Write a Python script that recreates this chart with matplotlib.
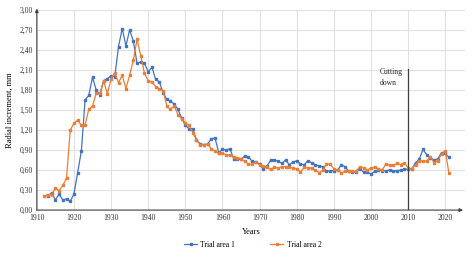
import matplotlib
matplotlib.use("Agg")
import matplotlib.pyplot as plt
import numpy as np

# ─────────────────────────────────────────────
# Dados
# ─────────────────────────────────────────────
years_area1 = list(range(1913, 2022))
area1 = [
    0.21, 0.26, 0.15, 0.24, 0.15, 0.17, 0.13,                    # 1913-1919
    0.24, 0.56, 0.89, 1.65, 1.72, 1.99, 1.80, 1.72, 1.94, 1.97,  # 1920-1929
    2.01, 2.00, 2.45, 2.72, 2.46, 2.70, 2.53, 2.20, 2.22, 2.20,  # 1930-1939
    2.07, 2.14, 1.96, 1.92, 1.76, 1.66, 1.63, 1.59, 1.51, 1.38,  # 1940-1949
    1.27, 1.22, 1.22, 1.05, 0.99, 0.98, 0.99, 1.07, 1.08, 0.86,  # 1950-1959
    0.91, 0.90, 0.92, 0.77, 0.76, 0.76, 0.81, 0.80, 0.73, 0.72,  # 1960-1969
    0.69, 0.61, 0.66, 0.75, 0.75, 0.73, 0.70, 0.75, 0.68, 0.72,  # 1970-1979
    0.74, 0.69, 0.68, 0.74, 0.71, 0.68, 0.66, 0.65, 0.58, 0.59,  # 1980-1989
    0.59, 0.60, 0.68, 0.65, 0.58, 0.57, 0.57, 0.62, 0.57, 0.57,  # 1990-1999
    0.54, 0.58, 0.60, 0.59, 0.59, 0.60, 0.59, 0.59, 0.60, 0.61,  # 2000-2009
    0.61, 0.62, 0.71, 0.76, 0.91, 0.83, 0.78, 0.75, 0.77, 0.86,  # 2010-2019
    0.85, 0.79,                                                  # 2020-2021
]

years_area2 = list(range(1912, 2022))
area2 = [
    0.21, 0.23, 0.23, 0.33, 0.29, 0.37, 0.48, 1.20,              # 1912-1919
    1.30, 1.35, 1.27, 1.28, 1.51, 1.56, 1.75, 1.75, 1.94, 1.74,  # 1920-1929
    1.97, 2.06, 1.91, 2.02, 1.82, 2.02, 2.25, 2.56, 2.31, 2.05,  # 1930-1939
    1.94, 1.92, 1.85, 1.82, 1.79, 1.56, 1.51, 1.56, 1.43, 1.37,  # 1940-1949
    1.31, 1.27, 1.16, 1.05, 0.98, 0.98, 0.99, 0.92, 0.88, 0.85,  # 1950-1959
    0.85, 0.83, 0.82, 0.80, 0.78, 0.77, 0.73, 0.69, 0.69, 0.72,  # 1960-1969
    0.68, 0.66, 0.64, 0.61, 0.64, 0.63, 0.65, 0.65, 0.64, 0.63,  # 1970-1979
    0.62, 0.57, 0.64, 0.63, 0.63, 0.60, 0.56, 0.60, 0.69, 0.69,  # 1980-1989
    0.62, 0.60, 0.56, 0.58, 0.58, 0.58, 0.58, 0.65, 0.63, 0.60,  # 1990-1999
    0.63, 0.64, 0.62, 0.60, 0.69, 0.67, 0.67, 0.70, 0.68, 0.71,  # 2000-2009
    0.63, 0.62, 0.68, 0.74, 0.73, 0.74, 0.80, 0.71, 0.74, 0.84,  # 2010-2019
    0.89, 0.55,                                                  # 2020-2021
]

series_labels = ["Trial area 1", "Trial area 2"]
x_ticks = list(range(1910, 2030, 10))
y_ticks = [0.0, 0.3, 0.6, 0.9, 1.2, 1.5, 1.8, 2.1, 2.4, 2.7, 3.0]
cut_year = 2010
cut_label = "Cutting\ndown"

# ─────────────────────────────────────────────
# Figura
# ─────────────────────────────────────────────
plt.rcParams["font.family"] = ["Liberation Serif", "DejaVu Serif"]

fig = plt.figure(figsize=(4.72, 2.60), dpi=100)
ax = fig.add_axes([0.078, 0.192, 0.907, 0.770])

x_min, x_max = 1910, 2025.3
ax.set_xlim(x_min, x_max)
ax.set_ylim(0, 3.0)

ax.plot(years_area1, area1, color="#4472C4", lw=0.9, marker="s", ms=1.6,
        label=series_labels[0], zorder=3)
ax.plot(years_area2, area2, color="#ED7D31", lw=0.9, marker="s", ms=1.6,
        label=series_labels[1], zorder=3)

# grade
ax.set_xticks(x_ticks)
ax.set_yticks(y_ticks)
ax.set_yticklabels([f"{v:.2f}".replace(".", ",") for v in y_ticks])
ax.grid(True, color="#e0e0e0", lw=0.8, zorder=0)
ax.tick_params(length=0, labelsize=5.5, pad=3, colors="#333333")

for s in ax.spines.values():
    s.set_visible(False)

# eixos com seta
ax.annotate("", xy=(x_min, 3.02), xytext=(x_min, 0), annotation_clip=False,
            arrowprops=dict(arrowstyle="-|>", color="#404040", lw=0.8,
                            mutation_scale=5, shrinkA=0, shrinkB=0))
ax.annotate("", xy=(x_max - 0.5, 0), xytext=(x_min, 0), annotation_clip=False,
            arrowprops=dict(arrowstyle="-|>", color="#404040", lw=0.8,
                            mutation_scale=5, shrinkA=0, shrinkB=0))

# linha do corte
ax.plot([cut_year, cut_year], [0, 2.11], color="#404040", lw=0.9, zorder=4)
ax.text(cut_year - 7.7, 2.13, cut_label, fontsize=5.5, va="top", ha="left",
        color="#222222", linespacing=1.5)

ax.set_xlabel("Years", fontsize=6, labelpad=4)
ax.set_ylabel("Radial increment, mm", fontsize=6, labelpad=4)

fig.legend(loc="center", bbox_to_anchor=(0.535, 0.058), ncol=2, frameon=False,
           fontsize=5.5, handlelength=1.8, columnspacing=4.5, handletextpad=0.4)

plt.savefig("out.png", dpi=100)
plt.close()
